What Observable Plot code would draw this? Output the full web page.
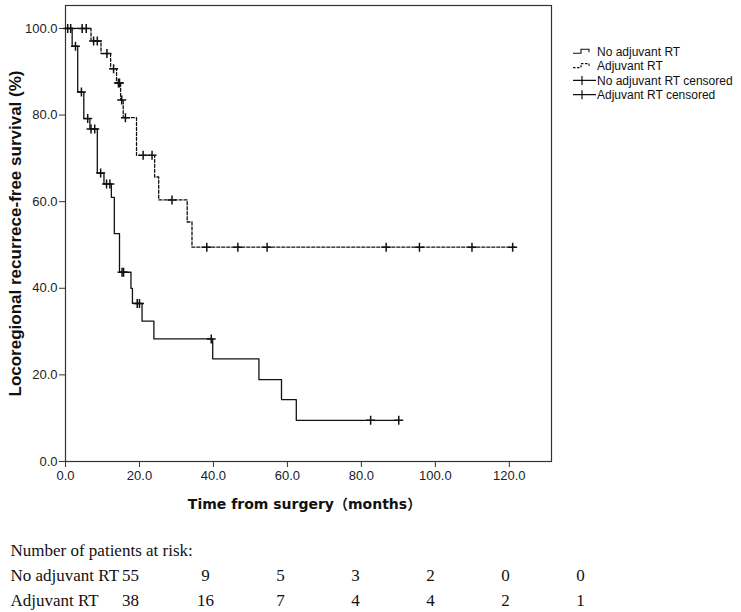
<!DOCTYPE html>
<html><head><meta charset="utf-8">
<script src="https://cdn.jsdelivr.net/npm/d3@7"></script>
<script src="https://cdn.jsdelivr.net/npm/@observablehq/plot@0.6"></script>
<style>
body{margin:0;background:#fff;}
#wrap{position:relative;width:741px;height:612px;background:#fff;}
#wrap svg{display:block;}
#legend{position:absolute;left:0;top:0;}
</style></head><body><div id="wrap"></div>
<script>
// ---- data ----
const xTicks = [0, 20, 40, 60, 80, 100, 120];
const yTicks = [0, 20, 40, 60, 80, 100];
const xLabel = "Time from surgery（months）";
const yLabel = "Locoregional recurrece-free survival (%)";

// No adjuvant RT (solid) KM steps
const noTimes = [0, 1.8, 3.3, 4.95, 6.6, 8.6, 10.4, 12.4, 13.2, 14.6, 17.7, 18.1, 20.7, 23.9, 39.8, 52.3, 58.4, 62.4, 90.3];
const noSurv  = [100, 95.9, 85.3, 79.2, 76.8, 66.6, 64.1, 61.0, 52.6, 43.7, 40.0, 36.5, 32.4, 28.3, 23.7, 18.9, 14.3, 9.5, 9.5];
const noCensTimes = [0.6, 1.4, 2.7, 4.3, 6.0, 6.9, 7.9, 9.5, 11.1, 12.0, 15.3, 15.7, 19.4, 20.0, 39.4, 82.5, 90.1];
const noCensSurv  = [100, 100, 95.9, 85.3, 79.2, 76.8, 76.8, 66.6, 64.1, 64.1, 43.7, 43.7, 36.5, 36.5, 28.3, 9.5, 9.5];

// Adjuvant RT (dashed) KM steps
const adjTimes = [0, 6.9, 9.6, 12.2, 13.8, 14.9, 15.6, 19.2, 24.1, 25.2, 32.9, 34.2, 121.5];
const adjSurv  = [100, 97.1, 94.2, 90.7, 87.4, 83.5, 79.4, 70.7, 65.7, 60.4, 55.3, 49.5, 49.5];
const adjCensTimes = [4.5, 5.6, 7.6, 8.6, 11.2, 13.0, 14.3, 14.6, 15.2, 16.2, 21.0, 23.4, 28.8, 38.2, 46.6, 54.5, 86.7, 95.7, 109.9, 120.9];
const adjCensSurv  = [100, 100, 97.1, 97.1, 94.2, 90.7, 87.4, 87.4, 83.5, 79.4, 70.7, 70.7, 60.4, 49.5, 49.5, 49.5, 49.5, 49.5, 49.5, 49.5];

// Risk table
const riskTitle = "Number of patients at risk:";
const riskGroups = ["No adjuvant RT", "Adjuvant RT"];
const riskTimes = [0, 20, 40, 60, 80, 100, 120];
const riskNo  = [55, 9, 5, 3, 2, 0, 0];
const riskAdj = [38, 16, 7, 4, 4, 2, 1];

const legendLabels = ["No adjuvant RT", "Adjuvant RT", "No adjuvant RT censored", "Adjuvant RT censored"];

// ---- build tables ----
const zip = (xs, ys) => xs.map((x, i) => ({t: x, s: ys[i]}));
const noData = zip(noTimes, noSurv);
const adjData = zip(adjTimes, adjSurv);
const noCens = zip(noCensTimes, noCensSurv);
const adjCens = zip(adjCensTimes, adjCensSurv);
const riskRows = [
  ...riskTimes.map((t, i) => ({time: t, group: riskGroups[0], n: riskNo[i]})),
  ...riskTimes.map((t, i) => ({time: t, group: riskGroups[1], n: riskAdj[i]}))
];

const plusSymbol = {
  draw(ctx, size) {
    const r = Math.sqrt(size / Math.PI);
    ctx.moveTo(-r, 0); ctx.lineTo(r, 0);
    ctx.moveTo(0, -r); ctx.lineTo(0, r);
  }
};
const f1 = d3.format(".1f");
const ink = "#111";

const main = Plot.plot({
  width: 741, height: 525,
  marginLeft: 65, marginRight: 190, marginTop: 5, marginBottom: 64,
  style: {fontFamily: "'Liberation Sans', Arial, sans-serif", fontSize: "13px", color: "#222", background: "#fff"},
  x: {domain: [0, 131.4]},
  y: {domain: [0, 105.3]},
  marks: [
    Plot.axisX({ticks: xTicks, tickFormat: f1, tickSize: 6, tickPadding: 3, label: null, stroke: "#333"}),
    Plot.axisY({ticks: yTicks, tickFormat: f1, tickSize: 6, tickPadding: 2, label: null, stroke: "#333"}),
    Plot.frame({stroke: "#333", strokeWidth: 1.2}),
    Plot.line(noData, {x: "t", y: "s", curve: "step-after", stroke: ink, strokeWidth: 1.3}),
    Plot.line(adjData, {x: "t", y: "s", curve: "step-after", stroke: ink, strokeWidth: 1.3, strokeDasharray: "3,2"}),
    Plot.dot(noCens, {x: "t", y: "s", symbol: plusSymbol, r: 4.5, fill: "none", stroke: ink, strokeWidth: 1.5}),
    Plot.dot(adjCens, {x: "t", y: "s", symbol: plusSymbol, r: 4.5, fill: "none", stroke: ink, strokeWidth: 1.5}),
    Plot.text([yLabel], {text: d => d, frameAnchor: "left", textAnchor: "middle", lineAnchor: "middle", rotate: -90, dx: -50, fontSize: 17, fontWeight: "bold", fill: ink}),
    Plot.text([xLabel], {text: d => d, frameAnchor: "bottom", textAnchor: "middle", lineAnchor: "middle", dy: 43, dx: -4, fontFamily: "'DejaVu Sans','Noto Sans CJK SC',sans-serif", fontSize: 14, fontWeight: "bold", fill: ink})
  ]
});

const table = Plot.plot({
  width: 741, height: 87,
  marginLeft: 10, marginRight: 0, marginTop: 0, marginBottom: 0,
  style: {fontFamily: "'Liberation Serif','Times New Roman',serif", fontSize: "17px", color: ink, background: "#fff"},
  x: {domain: [0, 120], range: [130, 580], axis: null},
  y: {type: "point", padding: 0, domain: [riskTitle, ...riskGroups], range: [25, 75], axis: null},
  marks: [
    Plot.text([riskTitle, ...riskGroups], {y: d => d, text: d => d, frameAnchor: "left", textAnchor: "start"}),
    Plot.text(riskRows, {x: "time", y: "group", text: "n"})
  ]
});

const wrap = document.getElementById("wrap");
wrap.appendChild(main);
wrap.appendChild(table);

// legend (outside plot frame, as in reference)
const lg = d3.select(wrap).append("svg").attr("id", "legend").attr("width", 741).attr("height", 130)
  .style("font-family", "'Liberation Sans', Arial, sans-serif").style("font-size", "12px");
legendLabels.forEach((lab, i) => {
  const c = 51.8 + i * 14.3;
  const g = lg.append("g");
  if (i < 2) {
    g.append("path").attr("d", `M573,${c + 1.5}H581V${c - 2.5}H589V${c + 0.5}`)
      .attr("fill", "none").attr("stroke", ink).attr("stroke-width", 1.1)
      .attr("stroke-dasharray", i === 1 ? "2.5,1.5" : null);
  } else {
    g.append("path").attr("d", `M573,${c}H596M582,${c - 4.5}V${c + 4.5}`)
      .attr("fill", "none").attr("stroke", ink).attr("stroke-width", 1.2);
  }
  g.append("text").attr("x", 597).attr("y", c).attr("dy", "0.35em").attr("fill", ink).text(lab);
});
</script>
</body></html>
